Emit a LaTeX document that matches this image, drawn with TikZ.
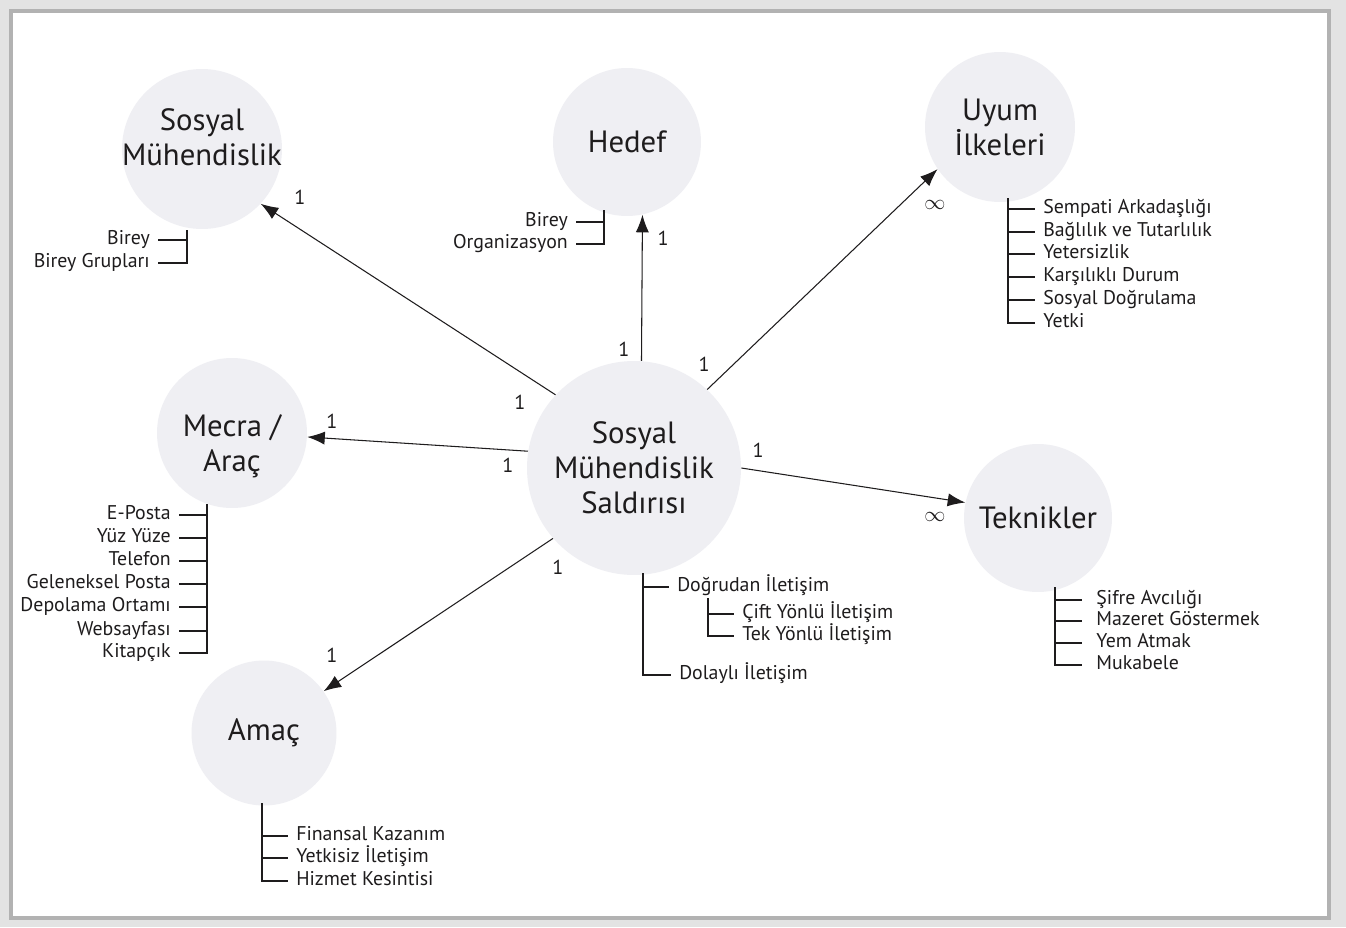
\documentclass[tikz,border=0pt]{standalone}
\usepackage{fontspec}
\setmainfont{PT Sans}
\usetikzlibrary{arrows.meta}
\definecolor{daire}{RGB}{239,239,243}
\definecolor{yazi}{RGB}{30,28,29}
\tikzset{
  konu/.style={circle,fill=daire,minimum size=3cm,inner sep=0pt,align=center,
    font=\fontsize{17.5}{20}\selectfont,text=yazi},
  baslik/.style={align=center,font=\fontsize{17.5}{20}\selectfont,text=yazi,inner sep=0pt},
  ana/.style={konu,minimum size=4.28cm},
  madde/.style={font=\fontsize{11.3}{13}\selectfont,inner xsep=4.5pt,inner ysep=1pt,text=yazi},
  carpan/.style={font=\fontsize{11.5}{13}\selectfont,text=yazi,inner sep=1pt},
  kol/.style={draw=yazi,line width=0.6pt},
  ok/.style={kol,-{Latex[length=10pt,width=7.5pt]}}
}
\begin{document}
\begin{tikzpicture}[x=0.02cm,y=-0.02cm]
\useasboundingbox (0,0) rectangle (1346,927);
% cerceve
\fill[gray!22] (0,0) rectangle (1346,927);
\draw[gray!60,line width=0.08cm,fill=white] (11,11) rectangle (1329,918);

% daireler
\node[ana] (saldiri) at (634,468) {Sosyal\\Mühendislik\\Saldırısı};
\node[konu,minimum size=3.2cm,
  label={[baslik,yshift=0.24cm]center:Sosyal\\Mühendislik}] (sosyal) at (202,149) {};
\node[konu,minimum size=2.96cm] (hedef) at (627,142) {Hedef};
\node[konu] (uyum) at (1000,127) {Uyum\\İlkeleri};
\node[konu,label={[baslik,yshift=-0.26cm]center:Mecra /\\Araç}] (mecra) at (232,433) {};
\node[konu,minimum size=2.96cm] (teknik) at (1038,518) {Teknikler};
\node[konu,minimum size=2.9cm] (amac) at (264,733) {Amaç};

% oklar
\draw[ok] (saldiri.137) -- (sosyal.-43);
\draw[ok] (saldiri.86) -- (hedef.-78);
\draw[ok] (saldiri.47) -- (uyum.-146);
\draw[ok] (saldiri.171) -- (mecra.-3);
\draw[ok] (saldiri.0) -- (teknik.168);
\draw[ok] (saldiri.-139) -- (amac.35);

% carpanlar
\node[carpan] (c1) at (300,197) {1};
\node[carpan] (c2) at (520,402) {1};
\node[carpan] (c3) at (663,238) {1};
\node[carpan] (c4) at (624,349) {1};
\node[carpan] (c5) at (935,205) {$\infty$};
\node[carpan] (c6) at (704,364) {1};
\node[carpan] (c7) at (332,421) {1};
\node[carpan] (c8) at (508,465) {1};
\node[carpan] (c9) at (935,517) {$\infty$};
\node[carpan] (c10) at (758,450) {1};
\node[carpan] (c11) at (332,655) {1};
\node[carpan] (c12) at (558,567) {1};

% sosyal muhendislik
\coordinate (sUst) at (187,230);
\node[madde,anchor=mid east] (s1) at (158,240) {Birey};
\node[madde,anchor=mid east] (s2) at (158,263) {Birey Grupları};
\foreach \m in {s1,s2} \draw[kol] (sUst) |- (\m.mid east);

% hedef
\coordinate (hUst) at (604,210);
\node[madde,anchor=mid east] (h1) at (576,222) {Birey};
\node[madde,anchor=mid east] (h2) at (576,244) {Organizasyon};
\foreach \m in {h1,h2} \draw[kol] (hUst) |- (\m.mid east);

% uyum ilkeleri
\coordinate (uUst) at (1008,198);
\node[madde,anchor=mid west] (u1) at (1035,209) {Sempati Arkadaşlığı};
\node[madde,anchor=mid west] (u2) at (1035,232) {Bağlılık ve Tutarlılık};
\node[madde,anchor=mid west] (u3) at (1035,254) {Yetersizlik};
\node[madde,anchor=mid west] (u4) at (1035,277) {Karşılıklı Durum};
\node[madde,anchor=mid west] (u5) at (1035,300) {Sosyal Doğrulama};
\node[madde,anchor=mid west] (u6) at (1035,323) {Yetki};
\foreach \m in {u1,u2,u3,u4,u5,u6} \draw[kol] (uUst) |- (\m.mid west);

% mecra
\coordinate (mUst) at (207,504);
\node[madde,anchor=mid east] (m1) at (179,515) {E-Posta};
\node[madde,anchor=mid east] (m2) at (179,538) {Yüz Yüze};
\node[madde,anchor=mid east] (m3) at (179,561) {Telefon};
\node[madde,anchor=mid east] (m4) at (179,584) {Geleneksel Posta};
\node[madde,anchor=mid east] (m5) at (179,607) {Depolama Ortamı};
\node[madde,anchor=mid east] (m6) at (179,631) {Websayfası};
\node[madde,anchor=mid east] (m7) at (179,653) {Kitapçık};
\foreach \m in {m1,m2,m3,m4,m5,m6,m7} \draw[kol] (mUst) |- (\m.mid east);

% amac
\coordinate (aUst) at (262,803);
\node[madde,anchor=mid west] (a1) at (288,836) {Finansal Kazanım};
\node[madde,anchor=mid west] (a2) at (288,858) {Yetkisiz İletişim};
\node[madde,anchor=mid west] (a3) at (288,881) {Hizmet Kesintisi};
\foreach \m in {a1,a2,a3} \draw[kol] (aUst) |- (\m.mid west);

% teknikler
\coordinate (tUst) at (1055,587);
\node[madde,anchor=mid west,inner xsep=8pt] (t1) at (1082,600) {Şifre Avcılığı};
\node[madde,anchor=mid west,inner xsep=8pt] (t2) at (1082,621) {Mazeret Göstermek};
\node[madde,anchor=mid west,inner xsep=8pt] (t3) at (1082,643) {Yem Atmak};
\node[madde,anchor=mid west,inner xsep=8pt] (t4) at (1082,665) {Mukabele};
\foreach \m in {t1,t2,t3,t4} \draw[kol] (tUst) |- (\m.mid west);

% iletisim
\coordinate (iUst) at (643,573);
\node[madde,anchor=mid west] (i1) at (669,587) {Doğrudan İletişim};
\node[madde,anchor=mid west] (i2) at (671,675) {Dolaylı İletişim};
\foreach \m in {i1,i2} \draw[kol] (iUst) |- (\m.mid west);
\coordinate (dUst) at (708,598);
\node[madde,anchor=mid west] (d1) at (734,614) {Çift Yönlü İletişim};
\node[madde,anchor=mid west] (d2) at (734,636) {Tek Yönlü İletişim};
\foreach \m in {d1,d2} \draw[kol] (dUst) |- (\m.mid west);
\end{tikzpicture}
\end{document}
